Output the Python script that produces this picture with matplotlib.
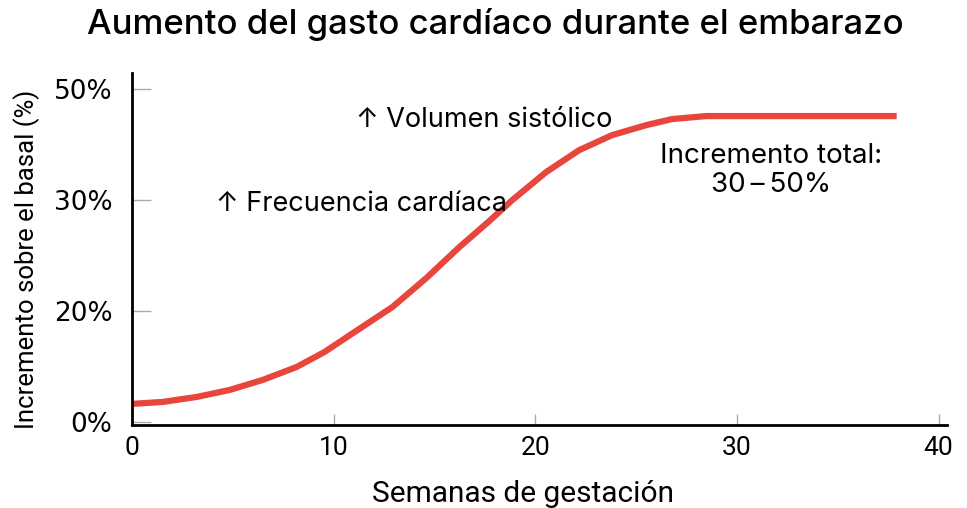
import numpy as np
import matplotlib.pyplot as plt

plt.rcParams['font.family'] = ['Inter', 'DejaVu Sans']

# semanas de gestación y aumento
semanas = [0, 1.53, 3.22, 4.85, 6.49, 8.17, 9.55, 11.19, 12.92, 14.60, 16.24,
           17.72, 18.86, 20.54, 22.18, 23.81, 25.50, 26.78, 28.47, 37.92]
aumento = [2.70, 3.00, 3.75, 4.80, 6.31, 8.26, 10.51, 13.81, 17.27, 21.62, 26.28,
           30.18, 33.33, 37.54, 40.84, 43.09, 44.59, 45.50, 45.95, 45.95]

xticks = [0, 10, 20, 30, 40]
yticks = [0, 50 / 3, 100 / 3, 50]
ytick_labels = ['0%', '20%', '30%', '50%']

narrow = ['Roboto', 'DejaVu Sans']

fig = plt.figure(figsize=(9.67, 5.08), dpi=100)
ax = fig.add_axes([0.1365, 0.163, 0.8425, 0.693])

ax.plot(semanas, aumento, color='#e8453c', lw=4.5, solid_capstyle='butt',
        solid_joinstyle='round')

ax.set_xlim(0, 40.4)
ax.set_ylim(-0.5, 52.4)
ax.set_xticks(xticks)
ax.set_xticklabels([str(t) for t in xticks], family=narrow, fontsize=19)
ax.set_yticks(yticks)
ax.set_yticklabels(ytick_labels, family=['DejaVu Sans'], fontsize=19)
ax.tick_params(axis='y', direction='in', length=14, width=1, color='#aaaaaa', pad=14)
ax.tick_params(axis='x', direction='in', length=8, width=1, color='#aaaaaa', pad=8)

for s in ['top', 'right']:
    ax.spines[s].set_visible(False)
for s in ['left', 'bottom']:
    ax.spines[s].set_linewidth(2)

ax.set_xlabel('Semanas de gestación', fontsize=21.5, family=narrow)
ax.xaxis.set_label_coords(0.48, -0.155)
ax.set_ylabel('Incremento sobre el basal (%)', fontsize=18.5, family=narrow)
ax.yaxis.set_label_coords(-0.113, 0.47)

fig.suptitle('Aumento del gasto cardíaco durante el embarazo', fontsize=25,
             fontweight='medium', x=0.512, y=0.985)

ax.text(11.1, 45.3, '↑ Volumen sistólico', fontsize=19.5, ha='left', va='center')
ax.text(4.15, 32.8, '↑ Frecuencia cardíaca', fontsize=19.5, ha='left', va='center')
ax.text(31.7, 37.8, 'Incremento total:\n30\u2009–\u200950%', fontsize=20, ha='center',
        va='center', linespacing=1.15)

fig.savefig('out.png', dpi=100)
